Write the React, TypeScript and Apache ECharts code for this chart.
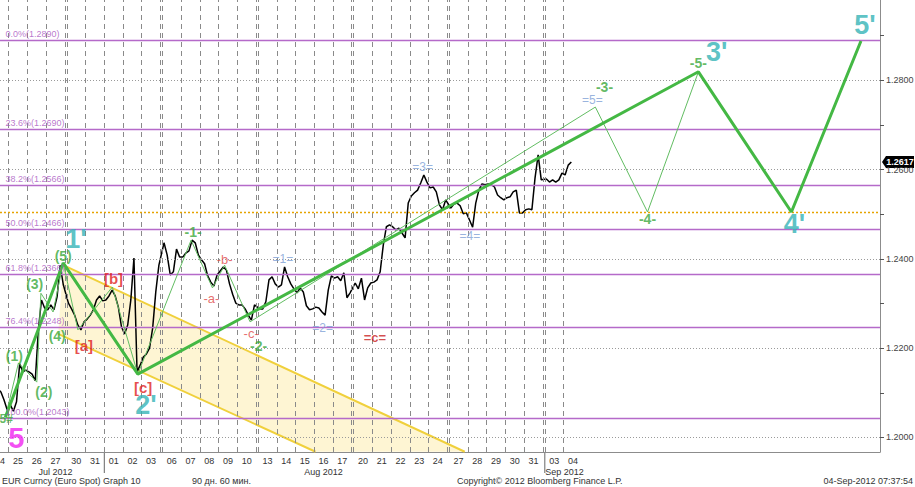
import React, { useEffect, useRef } from "react";
import * as echarts from "echarts";

// ---------- data ----------
const DAY_LABELS = ["24","25","26","27","30","31","01","02","03","06","07","08","09","10","13","14","15","16","17","20","21","22","23","24","27","28","29","30","31","03","04"];
const FRIDAYS = [3, 8, 13, 18, 23, 28, 33, 38, 43];
const MONTH_NAMES = ["Jul 2012", "Aug 2012", "Sep 2012"];
const MONTH_LABEL_T = [3.5, 17.5, 30.05];
const MONTH_START_DAYS = [6, 29];
const LAST_GRID_DAY = 30;

// hourly-ish closes, 6 samples per trading day (Jul 24 .. Sep 04)
const PRICE_BY_DAY: number[][] = [
  [1.2122, 1.2115, 1.2109, 1.2102, 1.2084, 1.2062],
  [1.2073, 1.2059, 1.2080, 1.2165, 1.2147, 1.2151],
  [1.2147, 1.2142, 1.2127, 1.2241, 1.2308, 1.2290],
  [1.2286, 1.2297, 1.2286, 1.2315, 1.2386, 1.2342],
  [1.2301, 1.2288, 1.2274, 1.2252, 1.2241, 1.2259],
  [1.2265, 1.2274, 1.2286, 1.2308, 1.2317, 1.2306],
  [1.2308, 1.2317, 1.2330, 1.2317, 1.2292, 1.2248],
  [1.2232, 1.2252, 1.2308, 1.2402, 1.2147, 1.2162],
  [1.2180, 1.2187, 1.2200, 1.2245, 1.2326, 1.2386],
  [1.2436, 1.2409, 1.2364, 1.2371, 1.2422, 1.2404],
  [1.2404, 1.2413, 1.2418, 1.2442, 1.2436, 1.2409],
  [1.2398, 1.2389, 1.2362, 1.2348, 1.2339, 1.2364],
  [1.2373, 1.2382, 1.2375, 1.2344, 1.2321, 1.2301],
  [1.2297, 1.2297, 1.2288, 1.2274, 1.2263, 1.2297],
  [1.2288, 1.2288, 1.2304, 1.2353, 1.2360, 1.2344],
  [1.2337, 1.2342, 1.2382, 1.2360, 1.2344, 1.2333],
  [1.2324, 1.2335, 1.2326, 1.2295, 1.2286, 1.2288],
  [1.2292, 1.2290, 1.2281, 1.2274, 1.2330, 1.2362],
  [1.2357, 1.2360, 1.2351, 1.2369, 1.2313, 1.2324],
  [1.2346, 1.2333, 1.2357, 1.2308, 1.2335, 1.2346],
  [1.2348, 1.2353, 1.2371, 1.2431, 1.2472, 1.2476],
  [1.2472, 1.2465, 1.2469, 1.2458, 1.2447, 1.2525],
  [1.2541, 1.2548, 1.2554, 1.2570, 1.2588, 1.2572],
  [1.2559, 1.2561, 1.2550, 1.2521, 1.2510, 1.2532],
  [1.2514, 1.2523, 1.2525, 1.2519, 1.2501, 1.2503],
  [1.2487, 1.2471, 1.2525, 1.2554, 1.2568, 1.2566],
  [1.2568, 1.2566, 1.2561, 1.2543, 1.2537, 1.2532],
  [1.2537, 1.2539, 1.2550, 1.2554, 1.2503, 1.2503],
  [1.2510, 1.2512, 1.2510, 1.2581, 1.2633, 1.2577],
  [1.2579, 1.2572, 1.2577, 1.2572, 1.2577, 1.2592],
  [1.2588, 1.2610, 1.2617],
];
const SAMPLES_PER_DAY = 6;
const LAST_PRICE = 1.2617;

// Elliott wave count (t = trading-day time, p = price)
const WAVE_MAIN_T = [0.82, 3.91, 7.79, 37.10, 41.96, 45.57];
const WAVE_MAIN_P = [1.2045, 1.2391, 1.2142, 1.2819, 1.2505, 1.2888];
const WAVE_SUB_T = [0.82, 1.52, 2.50, 2.72, 3.37, 3.91, 4.59, 6.43, 7.79, 10.53, 11.67, 12.32, 13.68, 31.70, 34.38, 37.10];
const WAVE_SUB_P = [1.2045, 1.2167, 1.2124, 1.2323, 1.2281, 1.2391, 1.2241, 1.2337, 1.2142, 1.2442, 1.2335, 1.2386, 1.2259, 1.2740, 1.2505, 1.2819];

const CHANNEL_UPPER_T = [3.91, 24.83];
const CHANNEL_UPPER_P = [1.2386, 1.1968];
const CHANNEL_LOWER_T = [3.64, 17.07];
const CHANNEL_LOWER_P = [1.2232, 1.1968];

const FIB_LEVELS = ["0.0%", "23.6%", "38.2%", "50.0%", "61.8%", "76.4%", "100.0%"];
const FIB_PRICES = [1.2890, 1.2690, 1.2566, 1.2466, 1.2366, 1.2248, 1.2043];
const PIVOT_PRICE = 1.2505;
const GRID_PRICES = [1.20, 1.22, 1.24, 1.26, 1.28];
const TICK_PRICES = [1.20, 1.21, 1.22, 1.23, 1.24, 1.25, 1.26, 1.27, 1.28, 1.29];

const LABEL_TEXT = ["1'", "2'", "3'", "4'", "5'", "5", "5#", "(1)", "(2)", "(3)", "(4)", "(5)", "-1-", "-2-", "-3-", "-4-", "-5-", "[a]", "[b]", "[c]", "-a-", "-b-", "-c-", "=c=", "=1=", "=2=", "=3=", "=4=", "=5="];
const LABEL_T = [4.48, 8.23, 38.08, 42.12, 45.78, 1.41, 0.87, 1.30, 2.88, 2.39, 3.59, 3.91, 10.64, 14.03, 32.19, 34.38, 37.10, 4.91, 6.49, 8.07, 11.61, 12.32, 13.74, 20.14, 15.33, 17.45, 22.69, 25.10, 31.54];
const LABEL_P = [1.2445, 1.2073, 1.2863, 1.2478, 1.2924, 1.1999, 1.2041, 1.2183, 1.2102, 1.2344, 1.2227, 1.2406, 1.2460, 1.2205, 1.2785, 1.2489, 1.2839, 1.2207, 1.2355, 1.2113, 1.2312, 1.2398, 1.2234, 1.2225, 1.2400, 1.2245, 1.2606, 1.2451, 1.2756];
const LABEL_KIND = ["prime", "prime", "prime", "prime", "prime", "big5", "small", "green", "green", "green", "green", "green", "green", "green", "green", "green", "green", "redBold", "redBold", "redBold", "red", "red", "red", "redEq", "blue", "blue", "blue", "blue", "blue"];

const FOOTER_TEXTS = ["EUR Curncy (Euro Spot) Graph 10", "90 дн. 60 мин.", "Copyright\u00a9 2012 Bloomberg Finance L.P.", "04-Sep-2012 07:37:54"];

// ---------- helpers ----------
const GAP = 0.107; // weekend gap in day units
const X_MIN = 0.534;
const X_MAX = 47.55;
const Y_MIN = 1.19675;
const Y_MAX = 1.29798;
const weekendsBefore = (i: number) => FRIDAYS.filter((f) => i > f).length;
const pos = (t: number) => t + GAP * weekendsBefore(Math.floor(t));

const FONT = "Liberation Sans, Arial, sans-serif";
const KIND_STYLE: Record<string, any> = {
  prime: { color: "#33b3b6", fontSize: 27, fontWeight: "bold" },
  big5: { color: "#f01ff0", fontSize: 29, fontWeight: "bold" },
  small: { color: "#3aa83a", fontSize: 12, fontWeight: "bold" },
  green: { color: "#3aa83a", fontSize: 14, fontWeight: "bold" },
  redBold: { color: "#e01f1f", fontSize: 15, fontWeight: "bold" },
  red: { color: "#e04a4a", fontSize: 13, fontWeight: "normal" },
  redEq: { color: "#c8201e", fontSize: 13, fontWeight: "bold" },
  blue: { color: "#7e9fd6", fontSize: 12, fontWeight: "normal" },
};

function buildOption() {
  const priceData: number[][] = [];
  PRICE_BY_DAY.forEach((arr, d) => {
    arr.forEach((p, k) => priceData.push([pos(d + (k + 0.5) / SAMPLES_PER_DAY), p]));
  });

  const vLines: any[] = [];
  for (let i = 1; i <= LAST_GRID_DAY; i++) {
    vLines.push({ xAxis: pos(i) });
    if (FRIDAYS.includes(i - 1)) vLines.push({ xAxis: pos(i) - GAP });
  }
  const hLines: any[] = [
    ...GRID_PRICES.map((v) => ({ yAxis: v, lineStyle: { color: "#9a9a9a", type: [1, 2], width: 1 } })),
    ...FIB_PRICES.map((v) => ({ yAxis: v, lineStyle: { color: "#b56ac9", type: "solid", width: 1.3 } })),
    { yAxis: PIVOT_PRICE, lineStyle: { color: "#e6a400", type: [2, 2], width: 1.3 } },
  ];

  // the first day's label sits on the plot's left edge, half cut off as in the reference
  const dayCenters = DAY_LABELS.map((_, i) => Math.max(pos(i + 0.5), X_MIN + 0.001));
  const monthCenters = MONTH_LABEL_T.map(pos);
  const lookup = (vals: number[], labels: string[]) => (v: number) => {
    let best = 0;
    vals.forEach((c, i) => { if (Math.abs(c - v) < Math.abs(vals[best] - v)) best = i; });
    return labels[best];
  };

  const labelData = LABEL_TEXT.map((text, i) => ({
    value: [pos(LABEL_T[i]), LABEL_P[i]],
    label: { show: true, position: "inside", formatter: text, fontFamily: FONT, ...KIND_STYLE[LABEL_KIND[i]] },
  }));
  const fibLabelData = FIB_LEVELS.map((lvl, i) => ({
    value: [pos(0.855), FIB_PRICES[i]],
    label: { show: true, position: [0, -10], formatter: `${lvl}(${FIB_PRICES[i].toFixed(4)})`, color: "#a855c0", fontSize: 9, fontFamily: FONT },
  }));

  const line = (ts: number[], ps: number[]) => ts.map((t, i) => [pos(t), ps[i]]);

  return {
    animation: false,
    backgroundColor: "#ffffff",
    grid: { left: 0, right: 35, top: 0, bottom: 35, containLabel: false, outerBoundsMode: "none" },
    xAxis: [
      {
        type: "value", min: X_MIN, max: X_MAX, position: "bottom",
        axisLine: { show: true, lineStyle: { color: "#8c8c8c", width: 1 } },
        axisTick: { show: false },
        axisLabel: { customValues: dayCenters, formatter: lookup(dayCenters, DAY_LABELS), fontSize: 9, color: "#333", margin: 4, fontFamily: FONT },
        splitLine: { show: false },
      },
      {
        type: "value", min: X_MIN, max: X_MAX, position: "bottom", offset: 11,
        axisLine: { show: false }, axisTick: { show: false },
        axisLabel: { customValues: monthCenters, formatter: lookup(monthCenters, MONTH_NAMES), fontSize: 9, color: "#333", margin: 4, fontFamily: FONT },
        splitLine: { show: false },
      },
    ],
    yAxis: {
      type: "value", position: "right", min: Y_MIN, max: Y_MAX,
      axisLine: { show: true, lineStyle: { color: "#8c8c8c" } },
      axisTick: { show: true, customValues: TICK_PRICES, length: 4, lineStyle: { color: "#555" } },
      axisLabel: { customValues: GRID_PRICES, formatter: (v: number) => v.toFixed(4), fontSize: 9, color: "#444", margin: 6, fontFamily: FONT },
      splitLine: { show: false },
    },
    series: [
      {
        type: "line", name: "grid", data: [], silent: true, z: 1,
        markLine: {
          silent: true, symbol: "none", precision: 6, label: { show: false },
          data: [
            ...vLines.map((d) => ({ ...d, lineStyle: { color: "#8a8a8a", type: [5, 4], width: 1 } })),
            ...hLines,
          ],
        },
      },
      {
        type: "custom", silent: true, z: 2, data: [[1, 1.25]],
        renderItem: (_p: any, api: any) => {
          const pts = [
            [CHANNEL_UPPER_T[0], CHANNEL_UPPER_P[0]],
            [CHANNEL_UPPER_T[1], CHANNEL_UPPER_P[1]],
            [CHANNEL_LOWER_T[1], CHANNEL_LOWER_P[1]],
            [CHANNEL_LOWER_T[0], CHANNEL_LOWER_P[0]],
          ].map(([t, p]) => api.coord([pos(t), p]));
          return { type: "polygon", shape: { points: pts }, style: { fill: "rgba(251,226,130,0.35)" } };
        },
      },
      { type: "line", data: line(CHANNEL_UPPER_T, CHANNEL_UPPER_P), symbol: "none", silent: true, z: 3, lineStyle: { color: "#f0d03c", width: 2 } },
      { type: "line", data: line(CHANNEL_LOWER_T, CHANNEL_LOWER_P), symbol: "none", silent: true, z: 3, lineStyle: { color: "#f0d03c", width: 2 } },
      { type: "line", data: priceData, symbol: "none", silent: true, z: 4, lineStyle: { color: "#000", width: 1.5 } },
      { type: "line", data: line(WAVE_SUB_T, WAVE_SUB_P), symbol: "none", silent: true, z: 5, lineStyle: { color: "#62bd62", width: 1 } },
      { type: "line", data: line(WAVE_MAIN_T, WAVE_MAIN_P), symbol: "none", silent: true, z: 6, lineStyle: { color: "#44b844", width: 3 } },
      { type: "scatter", data: fibLabelData, symbolSize: 1, itemStyle: { color: "transparent" }, silent: true, z: 7 },
      { type: "scatter", data: labelData, symbolSize: 1, itemStyle: { color: "transparent" }, silent: true, z: 8 },
    ],
  };
}

export default function App() {
  const ref = useRef<HTMLDivElement>(null);
  useEffect(() => {
    if (!ref.current) return;
    const chart = echarts.init(ref.current, null, { renderer: "svg" });
    chart.setOption(buildOption() as any);

    const yTag = chart.convertToPixel({ yAxisIndex: 0 }, LAST_PRICE) as number;
    const xRight = chart.convertToPixel({ xAxisIndex: 0 }, X_MAX) as number;
    const yBottom = chart.convertToPixel({ yAxisIndex: 0 }, Y_MIN) as number;
    const sepX = MONTH_START_DAYS.map((d) => chart.convertToPixel({ xAxisIndex: 0 }, pos(d)) as number);

    const footerStyle = { fontSize: 9, fill: "#333", fontFamily: FONT };
    chart.setOption({
      graphic: [
        ...sepX.map((x) => ({ type: "line", silent: true, shape: { x1: x, y1: yBottom, x2: x, y2: yBottom + 21 }, style: { stroke: "#666", lineWidth: 1 } })),
        {
          type: "polygon", silent: true,
          shape: { points: [[xRight + 2, yTag], [xRight + 6, yTag - 6], [xRight + 34, yTag - 6], [xRight + 34, yTag + 6], [xRight + 6, yTag + 6]] },
          style: { fill: "#000" },
        },
        { type: "text", silent: true, x: xRight + 20, y: yTag, style: { text: LAST_PRICE.toFixed(4), fill: "#fff", fontSize: 9, fontWeight: "bold", fontFamily: FONT, align: "center", verticalAlign: "middle" } },
        { type: "text", silent: true, left: 2, top: 476, style: { text: FOOTER_TEXTS[0], ...footerStyle } },
        { type: "text", silent: true, left: 192, top: 476, style: { text: FOOTER_TEXTS[1], ...footerStyle } },
        { type: "text", silent: true, left: 457, top: 476, style: { text: FOOTER_TEXTS[2], ...footerStyle } },
        { type: "text", silent: true, right: 2, top: 476, style: { text: FOOTER_TEXTS[3], ...footerStyle } },
      ],
    });
    return () => chart.dispose();
  }, []);
  return <div ref={ref} style={{ position: "fixed", left: 0, top: 0, width: 915, height: 487, background: "#fff" }} />;
}
